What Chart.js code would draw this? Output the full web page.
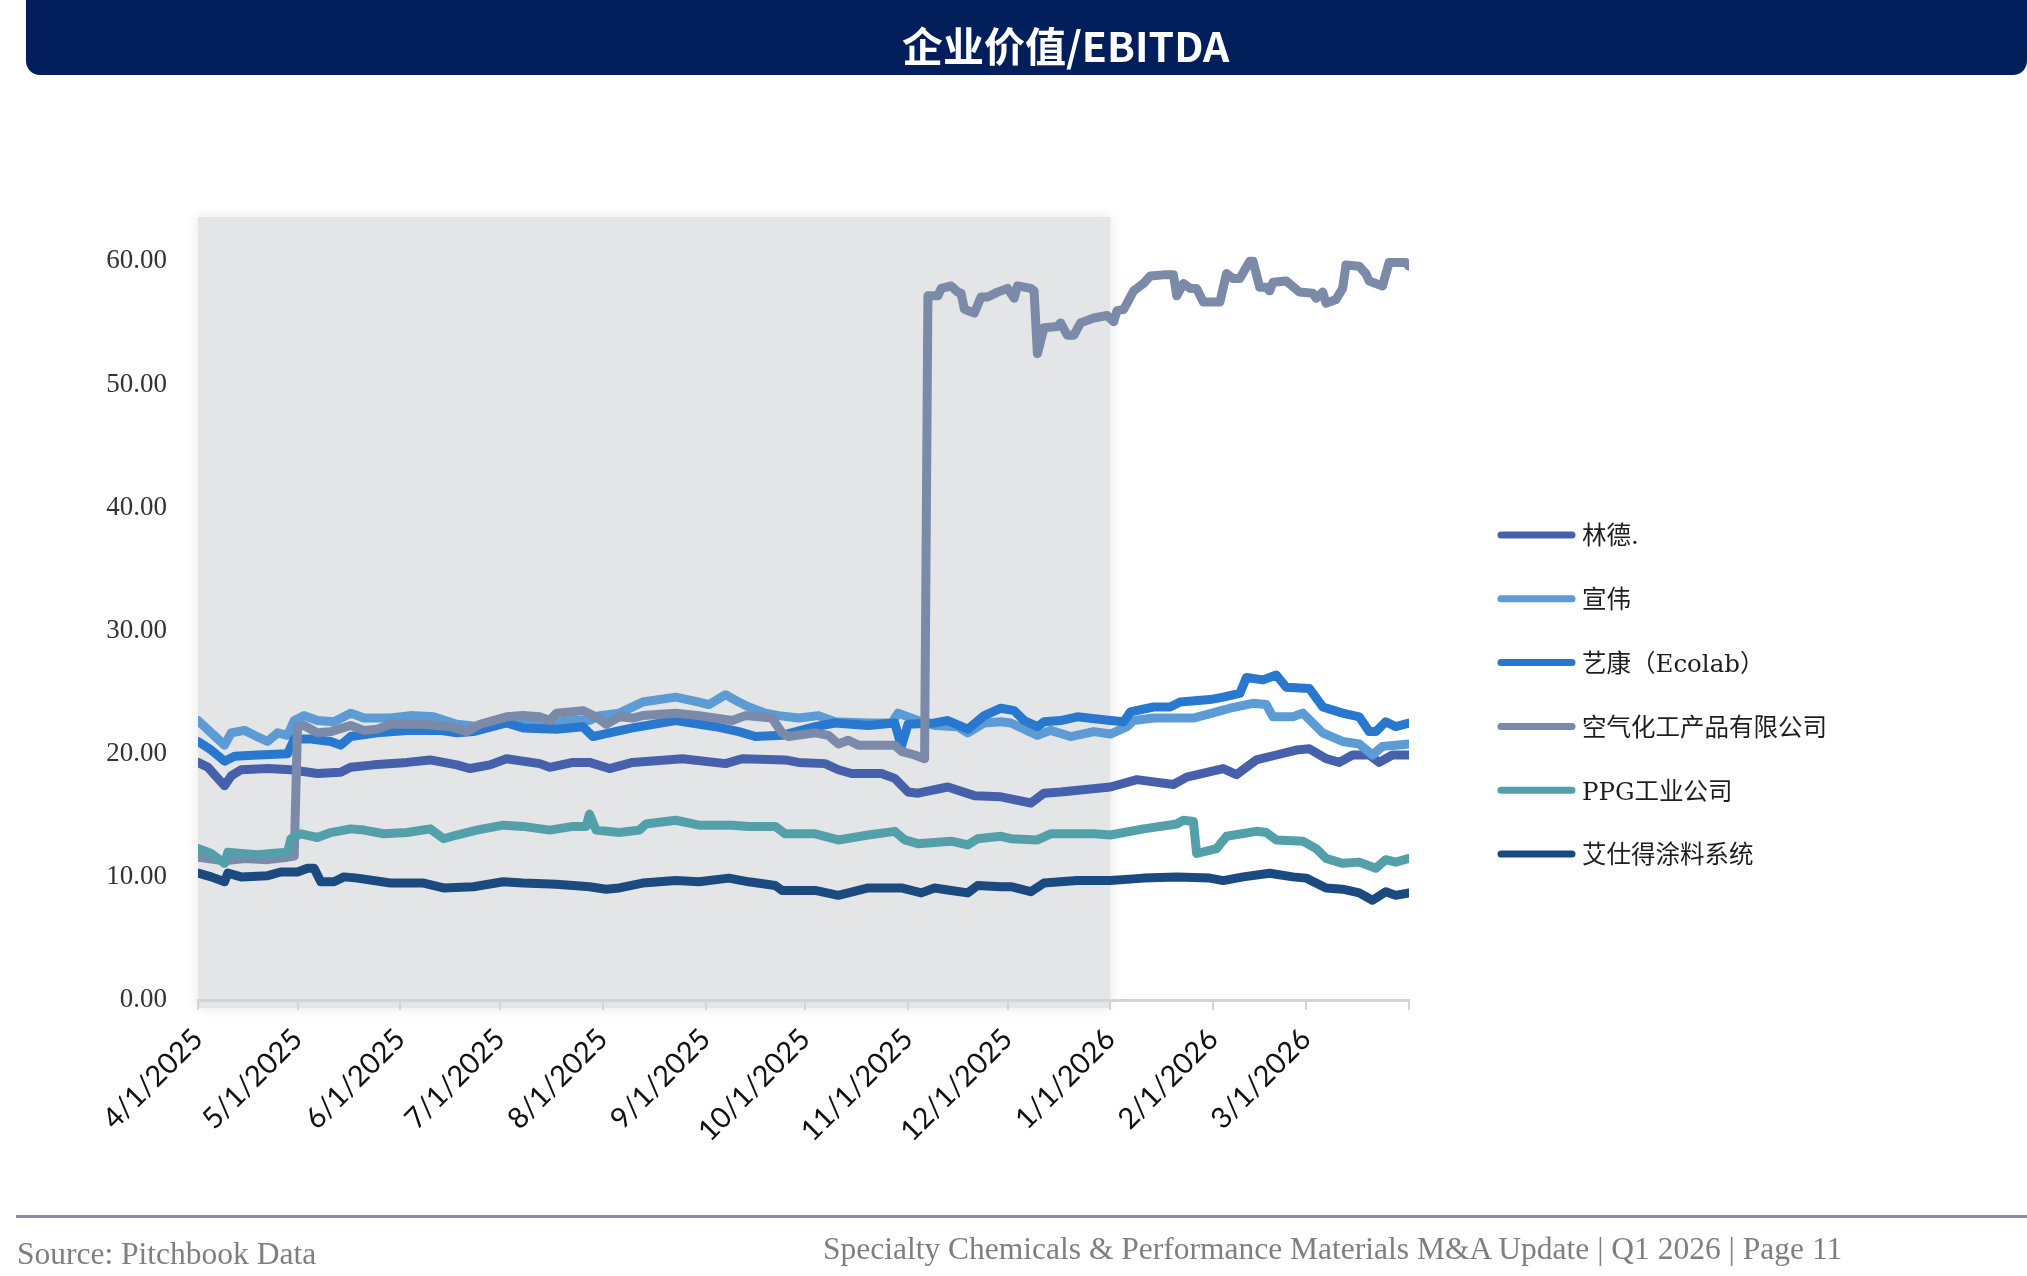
<!DOCTYPE html>
<html>
<head>
<meta charset="utf-8">
<title>企业价值/EBITDA</title>
<script src="https://cdn.jsdelivr.net/npm/chart.js@4.4.0/dist/chart.umd.min.js"></script>
<style>
  html, body { margin: 0; padding: 0; background: #fff; }
  body { width: 2027px; height: 1276px; position: relative; overflow: hidden; }
  #box { position: absolute; left: 0; top: 0; width: 2027px; height: 1276px; }
  .banner { position: absolute; left: 26px; top: 0; width: 2001px; height: 75px; background: #021e5b; border-radius: 0 0 14px 14px; }
  .banner h1 { position: absolute; left: 876px; top: 0; margin: 0; font: bold 41px "Noto Sans CJK SC", sans-serif; line-height: 88px; color: #fff; white-space: nowrap; }
  .rule { position: absolute; left: 16px; right: 0; top: 1215px; height: 3px; background: #8f87a8; }
  .foot { position: absolute; font: 31.5px "Liberation Serif", serif; line-height: 32px; color: #7f7f7f; white-space: nowrap; }
</style>
</head>
<body>
<div id="box"><canvas id="graf"></canvas></div>
<div class="banner"><h1>企业价值/EBITDA</h1></div>
<div class="rule"></div>
<div class="foot" style="left:17px;top:1238px">Source: Pitchbook Data</div>
<div class="foot" style="left:823px;top:1233px">Specialty Chemicals &amp; Performance Materials M&amp;A Update | Q1 2026 | Page 11</div>
<script>
const graf = document.getElementById("graf")

const startDate = Date.parse('2025-04-01')
const tickDates = ['2025-04-01', '2025-05-01', '2025-06-01', '2025-07-01', '2025-08-01', '2025-09-01', '2025-10-01',
    '2025-11-01', '2025-12-01', '2026-01-01', '2026-02-01', '2026-03-01', '2026-04-01']
const tickLabels = ['4/1/2025', '5/1/2025', '6/1/2025', '7/1/2025', '8/1/2025', '9/1/2025', '10/1/2025',
    '11/1/2025', '12/1/2025', '1/1/2026', '2/1/2026', '3/1/2026', '']
const yTicks = [0, 10, 20, 30, 40, 50, 60]
const shadeRange = ['2025-04-01', '2026-01-01']

const seriesNames = ['林德.', '宣伟', '艺康（Ecolab）', '空气化工产品有限公司', 'PPG工业公司', '艾仕得涂料系统']
const seriesColors = ['#4760ab', '#5c9bd3', '#2878d0', '#7b8aa8', '#54a0aa', '#1b4a80']

// x values are days since 4/1/2025
const lindeDays = [0, 3, 5, 8, 10, 13, 21, 28, 36, 43, 46, 53, 63, 70, 78, 82, 88, 93, 103, 106,
    113, 118, 124, 131, 146, 159, 164, 177, 181, 189, 193, 197, 206, 210, 214, 217, 226, 234, 242, 251,
    255, 260, 275, 283, 294, 298, 309, 313, 319, 325, 331, 335, 340, 344, 348, 353, 356, 360, 365]
const lindeVals = [19.3, 18.9, 18.3, 17.4, 18.2, 18.7, 18.8, 18.7, 18.4, 18.5, 18.9, 19.1, 19.3, 19.5, 19.1, 18.8, 19.1, 19.6, 19.2, 18.9,
    19.3, 19.3, 18.8, 19.3, 19.6, 19.2, 19.6, 19.5, 19.3, 19.2, 18.7, 18.4, 18.4, 18.0, 16.9, 16.8, 17.3, 16.6, 16.5, 16.0,
    16.8, 16.9, 17.3, 17.9, 17.5, 18.1, 18.8, 18.3, 19.5, 19.9, 20.3, 20.4, 19.6, 19.3, 19.9, 19.9, 19.3, 19.9, 19.9]

const sherwinDays = [0, 4, 8, 10, 14, 17, 21, 24, 27, 29, 32, 36, 41, 46, 50, 58, 64, 71, 78, 85,
    92, 99, 106, 113, 118, 121, 127, 134, 144, 151, 154, 159, 163, 166, 171, 175, 181, 187, 192, 202,
    209, 211, 217, 222, 229, 232, 237, 242, 245, 253, 257, 263, 270, 275, 280, 282, 288, 294, 300, 307,
    311, 318, 322, 324, 330, 333, 339, 345, 350, 354, 357, 361, 365]
const sherwinVals = [22.7, 21.7, 20.7, 21.7, 21.9, 21.5, 21.0, 21.7, 21.5, 22.7, 23.1, 22.7, 22.6, 23.3, 22.9, 22.9, 23.1, 23.0, 22.4, 22.2,
    22.5, 22.6, 22.5, 22.7, 22.7, 23.1, 23.3, 24.2, 24.6, 24.2, 24.0, 24.8, 24.2, 23.8, 23.3, 23.1, 22.9, 23.1, 22.6, 22.5,
    22.5, 23.3, 22.7, 22.3, 22.2, 21.7, 22.5, 22.6, 22.5, 21.5, 21.9, 21.4, 21.8, 21.6, 22.2, 22.7, 22.9, 22.9, 22.9, 23.4,
    23.7, 24.1, 24.0, 23.0, 23.0, 23.3, 21.7, 21.0, 20.8, 19.9, 20.6, 20.7, 20.8]

const ecolabDays = [0, 4, 8, 11, 18, 27, 29, 34, 40, 43, 46, 54, 64, 73, 78, 83, 93, 98, 108, 116,
    119, 124, 131, 144, 156, 163, 168, 176, 186, 192, 202, 210, 212, 214, 222, 226, 232, 237, 242, 246,
    249, 253, 255, 260, 265, 275, 279, 281, 288, 293, 296, 305, 309, 314, 316, 321, 325, 328, 335, 339,
    345, 350, 353, 355, 358, 361, 365]
const ecolabVals = [21.0, 20.3, 19.4, 19.8, 19.9, 20.0, 21.2, 21.2, 21.0, 20.7, 21.4, 21.7, 21.9, 21.9, 21.7, 21.8, 22.5, 22.1, 22.0, 22.2,
    21.4, 21.7, 22.1, 22.7, 22.2, 21.8, 21.4, 21.5, 22.2, 22.5, 22.3, 22.5, 20.6, 22.4, 22.5, 22.7, 22.0, 23.1, 23.7, 23.5,
    22.7, 22.2, 22.6, 22.7, 23.0, 22.7, 22.6, 23.4, 23.8, 23.8, 24.2, 24.4, 24.6, 24.9, 26.2, 26.0, 26.4, 25.4, 25.3, 23.8,
    23.3, 23.0, 21.8, 21.8, 22.6, 22.2, 22.5]

const airDays = [0, 8, 14, 21, 27, 29, 30, 32, 36, 40,
    46, 50, 54, 58, 68, 76, 81, 85, 93, 98,
    103, 106, 108, 116, 120, 123, 127, 131, 134, 144,
    151, 161, 165, 173, 176, 178, 186, 190, 193, 196,
    199, 210, 212, 216, 219, 220, 223, 224, 227, 229,
    230, 231, 234, 236, 238, 241, 244, 246, 247, 251,
    252, 253, 255, 259, 260, 262, 264, 266, 270, 274,
    276, 277, 279, 282, 285, 287, 291, 294, 295, 297,
    299, 301, 303, 308, 310, 312, 314, 317, 318, 320,
    322, 323, 324, 328, 332, 336, 337, 339, 340, 343,
    345, 346, 350, 352, 353, 357, 359, 364, 365]
const airVals = [11.6, 11.3, 11.5, 11.4, 11.6, 11.7, 22.2, 22.3, 21.7, 21.8,
    22.3, 21.9, 22.0, 22.4, 22.4, 22.2, 21.8, 22.4, 23.0, 23.1,
    23.0, 22.7, 23.3, 23.5, 23.0, 22.4, 23.0, 22.9, 23.1, 23.3,
    23.1, 22.7, 23.1, 22.9, 21.7, 21.4, 21.7, 21.5, 20.8, 21.1,
    20.7, 20.7, 20.2, 19.9, 19.6, 57.2, 57.2, 57.8, 58.0, 57.5,
    57.4, 56.1, 55.8, 57.1, 57.1, 57.5, 57.8, 57.0, 58.0, 57.8,
    57.6, 52.5, 54.6, 54.7, 55.0, 54.0, 54.0, 55.0, 55.4, 55.6,
    55.1, 56.0, 56.1, 57.6, 58.2, 58.8, 58.9, 58.9, 57.2, 58.2,
    57.8, 57.8, 56.7, 56.7, 59.0, 58.6, 58.6, 60.0, 60.0, 57.9,
    57.9, 57.6, 58.3, 58.4, 57.5, 57.4, 57.0, 57.5, 56.6, 56.9,
    57.8, 59.7, 59.6, 59.0, 58.4, 58.0, 59.9, 59.9, 59.6]

const ppgDays = [0, 4, 8, 9, 13, 18, 22, 27, 28, 31, 36, 40, 46, 50, 56, 63, 70, 74, 78, 84,
    92, 98, 106, 113, 117, 118, 120, 127, 133, 135, 144, 151, 161, 166, 174, 177, 186, 193, 202, 210,
    213, 217, 227, 232, 235, 242, 245, 253, 257, 270, 275, 285, 295, 297, 300, 301, 307, 310, 319, 322,
    325, 333, 337, 340, 345, 350, 355, 358, 361, 365]
const ppgVals = [12.3, 11.9, 11.1, 12.0, 11.9, 11.8, 11.9, 12.0, 13.1, 13.5, 13.2, 13.6, 13.9, 13.8, 13.5, 13.6, 13.9, 13.1, 13.4, 13.8,
    14.2, 14.1, 13.8, 14.1, 14.1, 15.1, 13.8, 13.6, 13.8, 14.3, 14.6, 14.2, 14.2, 14.1, 14.1, 13.5, 13.5, 13.0, 13.4, 13.7,
    13.0, 12.7, 12.9, 12.6, 13.1, 13.3, 13.1, 13.0, 13.5, 13.5, 13.4, 13.9, 14.3, 14.6, 14.5, 11.9, 12.3, 13.3, 13.7, 13.6,
    13.0, 12.9, 12.3, 11.5, 11.1, 11.2, 10.7, 11.4, 11.2, 11.5]

const axaltaDays = [0, 4, 8, 9, 13, 21, 25, 30, 33, 35, 37, 41, 44, 48, 58, 68, 74, 83, 92, 98,
    108, 118, 123, 127, 134, 144, 151, 160, 166, 174, 176, 186, 193, 202, 212, 218, 222, 227, 232, 235,
    242, 245, 251, 255, 265, 275, 285, 295, 305, 309, 315, 323, 330, 334, 340, 345, 350, 354, 358, 361, 365]
const axaltaVals = [10.3, 10.0, 9.6, 10.3, 10.0, 10.1, 10.4, 10.4, 10.7, 10.7, 9.6, 9.6, 10.0, 9.9, 9.5, 9.5, 9.1, 9.2, 9.6, 9.5,
    9.4, 9.2, 9.0, 9.1, 9.5, 9.7, 9.6, 9.9, 9.6, 9.3, 8.9, 8.9, 8.5, 9.1, 9.1, 8.7, 9.1, 8.9, 8.7, 9.3,
    9.2, 9.2, 8.8, 9.5, 9.7, 9.7, 9.9, 10.0, 9.9, 9.7, 10.0, 10.3, 10.0, 9.9, 9.1, 9.0, 8.7, 8.1, 8.8, 8.5, 8.7]

const daysList = [lindeDays, sherwinDays, ecolabDays, airDays, ppgDays, axaltaDays]
const valsList = [lindeVals, sherwinVals, ecolabVals, airVals, ppgVals, axaltaVals]

const toDay = s => (Date.parse(s) - startDate) / 86400000

const datasets = seriesNames.map((name, i) => ({
    label: name,
    data: daysList[i].map((d, j) => ({ x: d, y: valsList[i][j] })),
    borderColor: seriesColors[i],
    backgroundColor: seriesColors[i],
    borderWidth: 9,
    pointRadius: 0,
    tension: 0,
    borderJoinStyle: 'round',
    borderCapStyle: 'round',
    order: seriesNames.length - i // later series drawn on top, like the original
}))

// grey band behind the lines, first three quarters
const shadePlugin = {
    id: 'shade',
    beforeDraw(chart) {
        const { ctx, chartArea, scales } = chart
        const x0 = scales.x.getPixelForValue(toDay(shadeRange[0]))
        const x1 = scales.x.getPixelForValue(toDay(shadeRange[1]))
        ctx.save()
        ctx.shadowColor = 'rgba(0, 0, 0, 0.10)'
        ctx.shadowBlur = 12
        ctx.fillStyle = '#e4e5e7'
        ctx.fillRect(x0, chartArea.top, x1 - x0, chartArea.bottom - chartArea.top + 8)
        ctx.restore()
    }
}

// legend on the right, one row per series
const sideLegend = {
    id: 'sideLegend',
    afterDraw(chart) {
        const ctx = chart.ctx
        chart.data.datasets.forEach((ds, i) => {
            const y = 535 + i * 63.8
            ctx.save()
            ctx.strokeStyle = ds.borderColor
            ctx.lineWidth = 7
            ctx.lineCap = 'round'
            ctx.beginPath()
            ctx.moveTo(1501, y)
            ctx.lineTo(1572, y)
            ctx.stroke()
            ctx.fillStyle = '#1e1e1e'
            ctx.font = '24.5px "DejaVu Serif", "Noto Sans CJK SC", serif'
            ctx.textBaseline = 'middle'
            ctx.fillText(ds.label, 1582, y + 3)
            ctx.restore()
        })
    }
}

new Chart(graf, {
    type: 'line',
    data: { datasets: datasets },
    plugins: [shadePlugin, sideLegend],
    options: {
        responsive: true,
        maintainAspectRatio: false,
        animation: false,
        devicePixelRatio: 1,
        layout: { padding: { top: 217, right: 618, left: 0, bottom: 0 } },
        plugins: {
            legend: { display: false },
            tooltip: { enabled: false }
        },
        scales: {
            x: {
                type: 'linear',
                min: toDay(tickDates[0]),
                max: toDay(tickDates[tickDates.length - 1]),
                afterBuildTicks: s => { s.ticks = tickDates.map(d => ({ value: toDay(d) })) },
                afterFit: s => { s.height = 276 },
                grid: { drawOnChartArea: false, color: '#d4d4d4', lineWidth: 2, tickLength: 10 },
                border: { color: '#d4d4d4', width: 3 },
                ticks: {
                    autoSkip: false,
                    maxRotation: 45,
                    minRotation: 45,
                    padding: 12,
                    color: '#111',
                    font: { family: 'Lato', size: 29 },
                    callback: (v, i) => tickLabels[i]
                }
            },
            y: {
                min: 0,
                max: 63.6,
                afterBuildTicks: s => { s.ticks = yTicks.map(v => ({ value: v })) },
                afterFit: s => { s.width = 198 },
                grid: { display: false, drawTicks: false },
                border: { display: false },
                ticks: {
                    padding: 31,
                    color: '#333',
                    font: { family: 'Liberation Serif', size: 27 },
                    callback: v => v.toFixed(2)
                }
            }
        }
    }
})
</script>
</body>
</html>
